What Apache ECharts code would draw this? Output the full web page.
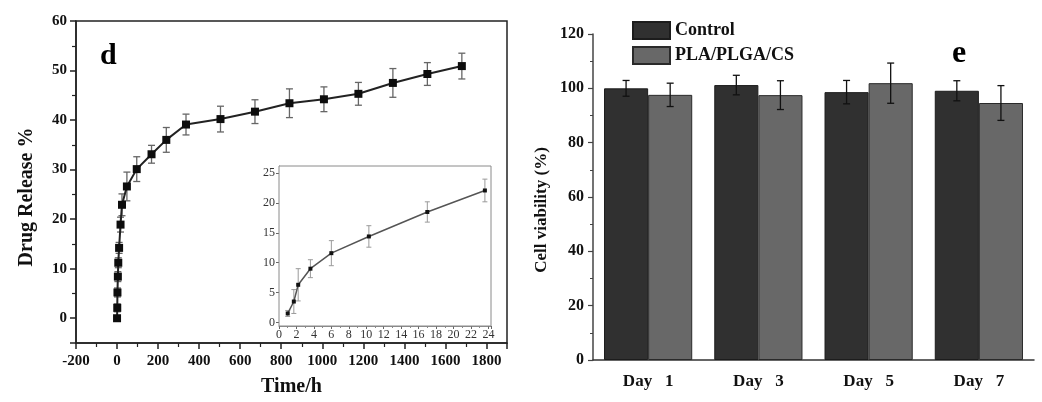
<!DOCTYPE html>
<html>
<head>
<meta charset="utf-8">
<script src="https://cdn.jsdelivr.net/npm/echarts@6/dist/echarts.min.js"></script>
<style>
  html, body { margin: 0; padding: 0; background: #fff; }
  #chart { width: 1042px; height: 402px; }
</style>
</head>
<body>
<div id="chart"></div>
<script>
// panel d: cumulative drug release (h, %)
const releaseTime = [0, 1, 2, 4, 6, 10, 17, 24, 48, 96, 168, 240, 336, 504, 672, 840, 1008, 1176, 1344, 1512, 1680]
const releaseValue = [0, 2.1, 5.2, 8.4, 11.2, 14.2, 18.9, 22.9, 26.6, 30.1, 33.1, 36.0, 39.1, 40.2, 41.7, 43.4, 44.2, 45.3, 47.5, 49.3, 50.9]
const releaseErr = [0.3, 0.8, 0.9, 1.0, 1.0, 1.1, 1.5, 2.2, 2.9, 2.5, 1.8, 2.5, 2.1, 2.6, 2.4, 2.9, 2.5, 2.3, 2.9, 2.3, 2.6]

// inset: first 24 h
const insetTime = [1, 1.7, 2.2, 3.6, 6, 10.3, 17, 23.6]
const insetValue = [1.5, 3.5, 6.3, 9.0, 11.6, 14.4, 18.5, 22.1]
const insetErr = [0.5, 2.0, 2.7, 1.5, 2.1, 1.8, 1.7, 1.9]

// panel e: cell viability
const days = ['Day   1', 'Day   3', 'Day   5', 'Day   7']
const controlValue = [100.0, 101.2, 98.6, 99.1]
const controlErr = [2.9, 3.6, 4.3, 3.7]
const plaValue = [97.6, 97.5, 101.9, 94.6]
const plaErr = [4.3, 5.3, 7.4, 6.4]

const serif = '"Liberation Serif", "Times New Roman", serif'

const pairs = (xs, ys) => xs.map((x, i) => [x, ys[i]])
const errRows = (xs, ys, es) => xs.map((x, i) => [x, ys[i] - es[i], ys[i] + es[i]])
const plain = v => String(v)

// 误差线
const errorBar = (offsetFrac, capHalf, color, width) => (params, api) => {
  const x = api.value(0)
  const lo = api.coord([x, api.value(1)])
  const hi = api.coord([x, api.value(2)])
  const dx = offsetFrac ? api.size([1, 0])[0] * offsetFrac : 0
  const cx = lo[0] + dx
  const style = { stroke: color, lineWidth: width }
  return {
    type: 'group',
    children: [
      { type: 'line', shape: { x1: cx, y1: lo[1], x2: cx, y2: hi[1] }, style },
      { type: 'line', shape: { x1: cx - capHalf, y1: lo[1], x2: cx + capHalf, y2: lo[1] }, style },
      { type: 'line', shape: { x1: cx - capHalf, y1: hi[1], x2: cx + capHalf, y2: hi[1] }, style }
    ]
  }
}

const boldLabel = (size, color) => ({ fontFamily: serif, fontWeight: 'bold', fontSize: size, color: color || '#111' })

const chart = echarts.init(document.getElementById('chart'), null, { renderer: 'canvas' })

const option = {
  backgroundColor: '#fff',
  animation: false,
  grid: [
    { left: 76, top: 21, width: 431, height: 322, show: true, borderColor: '#222', borderWidth: 1.5, backgroundColor: 'transparent' },
    { left: 279, top: 166, width: 212, height: 160, show: true, borderColor: '#8a8a8a', borderWidth: 1, backgroundColor: '#fff', z: 5 },
    { left: 593, top: 34, width: 441, height: 326 }
  ],
  legend: {
    left: 632,
    top: 21,
    padding: 0,
    orient: 'vertical',
    icon: 'rect',
    itemWidth: 37,
    itemHeight: 17,
    itemGap: 6,
    textStyle: boldLabel(18),
    data: ['Control', 'PLA/PLGA/CS']
  },
  xAxis: [
    {
      type: 'value', gridIndex: 0, min: -200, max: 1900, minInterval: 200, maxInterval: 200,
      axisLine: { onZero: false, lineStyle: { color: '#222', width: 1.5 } },
      axisTick: { length: 6, lineStyle: { color: '#222', width: 1.5 } },
      minorTick: { show: true, splitNumber: 2, length: 4, lineStyle: { color: '#222', width: 1.2 } },
      axisLabel: Object.assign({ margin: 11, showMaxLabel: false, formatter: plain }, boldLabel(15)),
      splitLine: { show: false },
      name: 'Time/h', nameLocation: 'middle', nameGap: 34,
      nameTextStyle: boldLabel(20)
    },
    {
      type: 'value', gridIndex: 1, min: 0, max: 24.3, minInterval: 2, maxInterval: 2,
      axisLine: { onZero: false, lineStyle: { color: '#8a8a8a' } },
      axisTick: { length: 3, lineStyle: { color: '#666' } },
      minorTick: { show: true, splitNumber: 2, length: 2, lineStyle: { color: '#888' } },
      axisLabel: { margin: 3, showMaxLabel: false, formatter: plain, fontFamily: serif, fontSize: 12, color: '#333' },
      splitLine: { show: false }
    },
    {
      type: 'category', gridIndex: 2, data: days,
      axisLine: { lineStyle: { color: '#333', width: 1.5 } },
      axisTick: { show: false },
      axisLabel: Object.assign({ margin: 13 }, boldLabel(17))
    }
  ],
  yAxis: [
    {
      type: 'value', gridIndex: 0, min: -5, max: 60, minInterval: 10, maxInterval: 10,
      axisLine: { onZero: false, lineStyle: { color: '#222', width: 1.5 } },
      axisTick: { length: 6, lineStyle: { color: '#222', width: 1.5 } },
      minorTick: { show: true, splitNumber: 2, length: 4, lineStyle: { color: '#222', width: 1.2 } },
      axisLabel: Object.assign({ margin: 9, showMinLabel: false, formatter: plain }, boldLabel(15)),
      splitLine: { show: false }
    },
    {
      type: 'value', gridIndex: 1, min: -0.6, max: 26.2, minInterval: 5, maxInterval: 5,
      axisLine: { onZero: false, lineStyle: { color: '#8a8a8a' } },
      axisTick: { length: 3, lineStyle: { color: '#666' } },
      axisLabel: { margin: 4, showMinLabel: false, showMaxLabel: false, formatter: plain, fontFamily: serif, fontSize: 12, color: '#333' },
      splitLine: { show: false }
    },
    {
      type: 'value', gridIndex: 2, min: 0, max: 120, interval: 20,
      axisLine: { show: true, lineStyle: { color: '#444', width: 1.5 } },
      axisTick: { show: true, length: 5, lineStyle: { color: '#444', width: 1.2 } },
      minorTick: { show: true, splitNumber: 2, length: 3, lineStyle: { color: '#444' } },
      axisLabel: Object.assign({ margin: 9 }, boldLabel(16)),
      splitLine: { show: false }
    }
  ],
  series: [
    {
      type: 'custom', xAxisIndex: 0, yAxisIndex: 0, z: 2,
      renderItem: errorBar(0, 3.5, '#666', 1.3),
      data: errRows(releaseTime, releaseValue, releaseErr)
    },
    {
      type: 'line', xAxisIndex: 0, yAxisIndex: 0, z: 3,
      data: pairs(releaseTime, releaseValue),
      symbol: 'rect', symbolSize: 8,
      lineStyle: { color: '#222', width: 2 },
      itemStyle: { color: '#0d0d0d' }
    },
    {
      type: 'custom', xAxisIndex: 1, yAxisIndex: 1, z: 6,
      renderItem: errorBar(0, 2.5, '#9a9a9a', 1),
      data: errRows(insetTime, insetValue, insetErr)
    },
    {
      type: 'line', xAxisIndex: 1, yAxisIndex: 1, z: 7,
      data: pairs(insetTime, insetValue),
      symbol: 'rect', symbolSize: 4,
      lineStyle: { color: '#555', width: 1.5 },
      itemStyle: { color: '#111' }
    },
    {
      name: 'Control', type: 'bar', xAxisIndex: 2, yAxisIndex: 2,
      data: controlValue, barWidth: '40%', barGap: '0%',
      itemStyle: { color: '#303030', borderColor: '#1c1c1c', borderWidth: 1 }
    },
    {
      name: 'PLA/PLGA/CS', type: 'bar', xAxisIndex: 2, yAxisIndex: 2,
      data: plaValue, barWidth: '40%', barGap: '0%',
      itemStyle: { color: '#686868', borderColor: '#2a2a2a', borderWidth: 1 }
    },
    {
      type: 'custom', xAxisIndex: 2, yAxisIndex: 2, z: 4,
      renderItem: errorBar(-0.2, 3.5, '#111', 1.3),
      data: errRows([0, 1, 2, 3], controlValue, controlErr)
    },
    {
      type: 'custom', xAxisIndex: 2, yAxisIndex: 2, z: 4,
      renderItem: errorBar(0.2, 3.5, '#111', 1.3),
      data: errRows([0, 1, 2, 3], plaValue, plaErr)
    }
  ],
  graphic: [
    { type: 'text', x: 27, y: 197, rotation: Math.PI / 2,
      style: { text: 'Drug Release %', align: 'center', verticalAlign: 'middle', font: 'bold 20px ' + serif, fill: '#111' } },
    { type: 'text', x: 542, y: 210, rotation: Math.PI / 2,
      style: { text: 'Cell viability (%)', align: 'center', verticalAlign: 'middle', font: 'bold 17px ' + serif, fill: '#111' } },
    { type: 'text', x: 100, y: 71,
      style: { text: 'd', verticalAlign: 'bottom', font: 'bold 30px ' + serif, fill: '#000' } },
    { type: 'text', x: 952, y: 70,
      style: { text: 'e', verticalAlign: 'bottom', font: 'bold 32px ' + serif, fill: '#000' } }
  ]
}

chart.setOption(option)
</script>
</body>
</html>
